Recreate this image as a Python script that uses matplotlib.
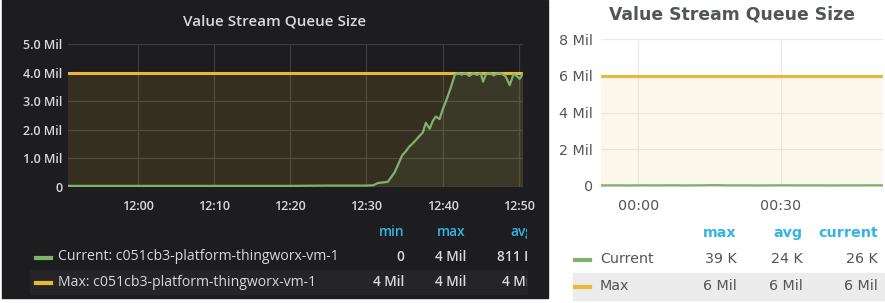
import matplotlib
matplotlib.use("Agg")
import matplotlib.pyplot as plt
from matplotlib.patches import Rectangle
from matplotlib.lines import Line2D
from matplotlib.transforms import Bbox, TransformedBbox

# ---------------- data ----------------
title = "Value Stream Queue Size"

# left panel (minutes after 12:00, values in millions)
left_ticks = [0, 10, 20, 30, 40, 50]
left_tick_labels = ["12:00", "12:10", "12:20", "12:30", "12:40", "12:50"]
left_yticks = [0, 1, 2, 3, 4, 5]
left_ytick_labels = ["0", "1.0 Mil", "2.0 Mil", "3.0 Mil", "4.0 Mil", "5.0 Mil"]
left_time = [-9.1, -5, 0, 5, 10, 15, 20, 25, 30, 30.9, 31.5, 32.8, 33.7, 34.2, 34.7,
             35.2, 35.6, 36.2, 36.9, 37.4, 37.8, 38.3, 38.7, 39.1, 39.6, 40.0, 40.5,
             41.1, 41.6, 42.0, 42.5, 43.0, 43.5, 44.0, 44.5, 45.0, 45.3, 45.7, 46.2,
             46.7, 47.2, 47.8, 48.3, 48.8, 49.3, 49.7, 50.1, 50.5]
left_current = [0.03, 0.03, 0.03, 0.03, 0.03, 0.03, 0.03, 0.04, 0.04, 0.05, 0.13, 0.17, 0.5, 0.8, 1.1,
                1.25, 1.4, 1.55, 1.76, 1.9, 2.24, 2.03, 2.3, 2.46, 2.37, 2.7, 3.04,
                3.5, 3.92, 3.98, 3.93, 3.98, 3.88, 3.97, 3.92, 3.98, 3.68, 3.95, 3.98,
                3.90, 3.97, 3.96, 3.85, 3.56, 3.95, 3.88, 3.78, 3.95]
left_max = [4.0] * len(left_time)
left_series = ["Current: c051cb3-platform-thingworx-vm-1", "Max: c051cb3-platform-thingworx-vm-1"]
left_cols = ["min", "max", "avg"]
left_stats = [["0", "4 Mil", "811 K"], ["4 Mil", "4 Mil", "4 Mil"]]

# right panel (minutes after 00:00, values in millions)
right_ticks = [0, 30]
right_tick_labels = ["00:00", "00:30"]
right_yticks = [0, 2, 4, 6, 8]
right_ytick_labels = ["0", "2 Mil", "4 Mil", "6 Mil", "8 Mil"]
right_time = [-7.9, -5, -2, 1, 4, 7, 10, 13, 16, 19, 22, 25, 28, 31, 34, 37, 40, 43, 46, 49, 51.5]
right_current = [0.022, 0.025, 0.020, 0.027, 0.024, 0.030, 0.021, 0.026, 0.039, 0.023, 0.025,
                 0.020, 0.024, 0.028, 0.022, 0.025, 0.021, 0.024, 0.023, 0.027, 0.026]
right_max = [6.0] * len(right_time)
right_series = ["Current", "Max"]
right_cols = ["max", "avg", "current"]
right_stats = [["39 K", "24 K", "26 K"], ["6 Mil", "6 Mil", "6 Mil"]]

GREEN = "#7eb26d"
YELLOW = "#eab839"
BLUE = "#33b5e5"
DARK_BG = "#1d1d1f"
W, H = 885, 303

fig = plt.figure(figsize=(W / 100, H / 100), dpi=100)
fig.patch.set_facecolor("white")

def px_axes(x0, y0, x1, y1, **kw):
    return fig.add_axes([x0 / W, (H - y1) / H, (x1 - x0) / W, (y1 - y0) / H], **kw)

# overlay in pixel coordinates
ov = px_axes(0, 0, W, H)
ov.set_xlim(0, W)
ov.set_ylim(H, 0)
ov.axis("off")
ov.add_patch(Rectangle((2, 0), 546, 298, color=DARK_BG, zorder=0))
ov.add_patch(Rectangle((30, 270), 497, 24, color="#252527", zorder=1))
ov.add_patch(Rectangle((573, 273), 312, 27, color="#ececec", zorder=1))

# ---------------- left panel ----------------
axL = px_axes(68, 44, 522.7, 187.3)
axL.set_facecolor(DARK_BG)
axL.set_xlim(-9.13, 50.5)
axL.set_ylim(-0.02, 5.0)
axL.fill_between(left_time, left_max, 0, color=YELLOW, alpha=0.12, lw=0)
axL.fill_between(left_time, left_current, 0, color=GREEN, alpha=0.08, lw=0)
axL.plot(left_time, left_max, color=YELLOW, lw=2.2)
axL.plot(left_time, left_current, color=GREEN, lw=1.6)
axL.set_xticks(left_ticks)
axL.set_xticklabels(left_tick_labels)
axL.set_yticks(left_yticks)
axL.set_yticklabels(left_ytick_labels)
axL.grid(True, color="#3c3c3c", lw=0.9)
axL.set_axisbelow(True)
for s in axL.spines.values():
    s.set_visible(False)
axL.tick_params(axis="both", length=0, colors="#d8d9da", labelsize=9)
axL.tick_params(axis="x", pad=9)
axL.tick_params(axis="y", pad=4)
for lab in axL.get_xticklabels() + axL.get_yticklabels():
    lab.set_family("Open Sans")
    lab.set_fontweight("semibold")

ov.text(275, 21, title, ha="center", va="center", color="#d8d9da",
        fontsize=11, fontweight="semibold", family="Open Sans")

clipL = TransformedBbox(Bbox([[0, 0], [527, H]]), ov.transData)
col_x_left = [404, 466, 533]
for cx, c in zip(col_x_left, left_cols):
    t = ov.text(cx, 232, c, ha="right", va="center", color=BLUE, fontsize=9.8,
                fontweight="semibold", family="Open Sans")
    t.set_clip_box(clipL)
    t.set_clip_on(True)
for i, (name, color, stats) in enumerate(zip(left_series, [GREEN, YELLOW], left_stats)):
    y = 257 + 25 * i
    ov.add_line(Line2D([36, 51], [y + 1, y + 1], color=color, lw=3))
    ov.text(58, y, name, ha="left", va="center", color="#d8d9da", fontsize=10.1,
            family="Open Sans")
    for cx, v in zip(col_x_left, stats):
        t = ov.text(cx, y, v, ha="right", va="center", color="#d8d9da", fontsize=9.8,
                    fontweight="semibold", family="Open Sans")
        t.set_clip_box(clipL)
        t.set_clip_on(True)

# ---------------- right panel ----------------
axR = px_axes(601, 39.3, 882.7, 186.7)
axR.set_facecolor("white")
axR.set_xlim(-7.9, 51.5)
axR.set_ylim(-0.05, 8.0)
axR.fill_between(right_time, right_max, 0, color=YELLOW, alpha=0.1, lw=0)
axR.fill_between(right_time, right_current, 0, color=GREEN, alpha=0.1, lw=0)
axR.plot(right_time, right_max, color=YELLOW, lw=2.2)
axR.plot(right_time, right_current, color=GREEN, lw=1.6)
axR.set_xticks(right_ticks)
axR.set_xticklabels(right_tick_labels)
axR.set_yticks(right_yticks)
axR.set_yticklabels(right_ytick_labels)
axR.grid(True, color="#e9e9e9", lw=0.9)
axR.set_axisbelow(True)
for s in axR.spines.values():
    s.set_visible(False)
axR.tick_params(axis="both", length=0, colors="#555555", labelsize=10.3)
axR.tick_params(axis="x", pad=9)
axR.tick_params(axis="y", pad=6)

ov.text(732, 15, title, ha="center", va="center", color="#52545c",
        fontsize=12.4, fontweight="bold", family="DejaVu Sans")

col_x_right = [737, 803, 878]
for cx, c in zip(col_x_right, right_cols):
    ov.text(cx, 233, c, ha="right", va="center", color=BLUE, fontsize=10.3,
            fontweight="bold", family="DejaVu Sans")
for i, (name, color, stats) in enumerate(zip(right_series, [GREEN, YELLOW], right_stats)):
    y = 259 + 27 * i
    ov.add_line(Line2D([575, 590], [y + 1, y + 1], color=color, lw=3))
    ov.text(600, y, name, ha="left", va="center", color="#555555", fontsize=10.3,
            family="DejaVu Sans")
    for cx, v in zip(col_x_right, stats):
        ov.text(cx, y, v, ha="right", va="center", color="#555555", fontsize=10.3,
                family="DejaVu Sans")

fig.savefig("out.png", dpi=100, facecolor=fig.get_facecolor())
